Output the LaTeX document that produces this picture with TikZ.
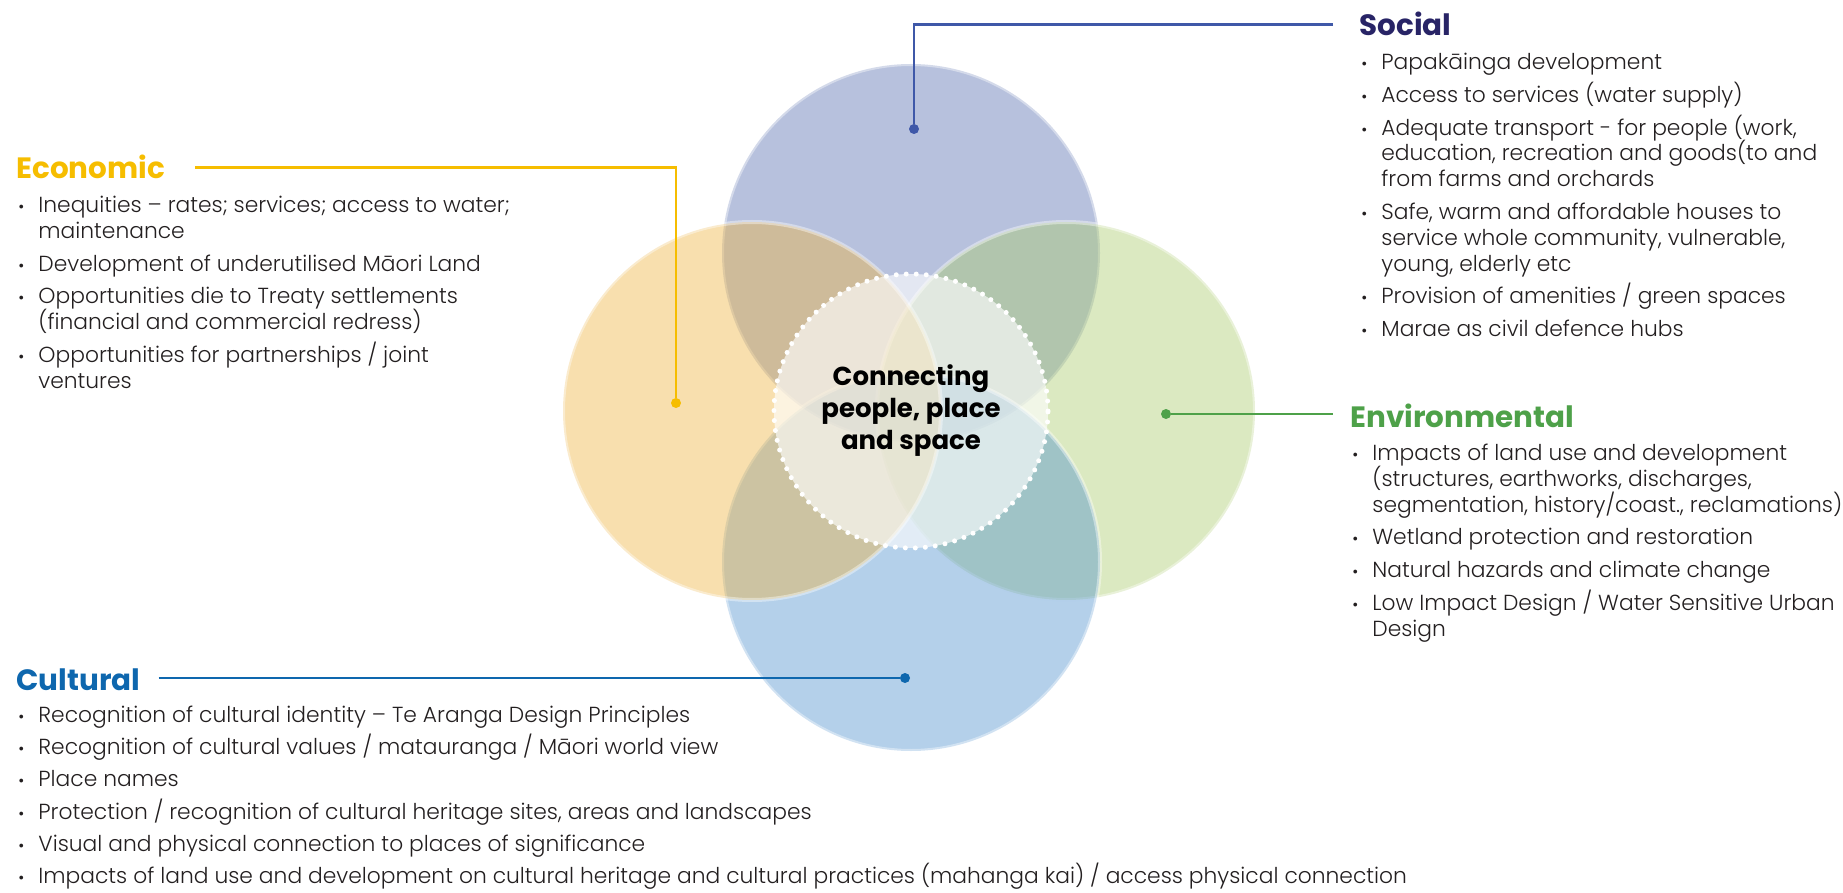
\documentclass[tikz,border=0pt]{standalone}
\usepackage{fontspec}
\setmainfont{Poppins}[UprightFont=* Light,BoldFont=* Bold]
\usetikzlibrary{positioning}
\definecolor{SocFill}{HTML}{546CAE}
\definecolor{EcoFill}{HTML}{EEB33E}
\definecolor{EnvFill}{HTML}{A9CB6B}
\definecolor{CulFill}{HTML}{4C8FCD}
\definecolor{SocHead}{HTML}{282466}
\definecolor{SocLine}{HTML}{3F58A8}
\definecolor{EcoHead}{HTML}{F6BD00}
\definecolor{EnvHead}{HTML}{4EA149}
\definecolor{CulHead}{HTML}{0E67AE}
\definecolor{BodyText}{HTML}{231F20}
\newcommand{\bul}{\makebox[10pt][l]{\scalebox{.75}{\textbullet}}}
% one bullet point, hanging indent, fixed line pitch, gap after it
\newcommand{\bitem}[2][3.5pt]{\lineskiplimit=-100pt\parskip=0pt
  \spaceskip=0pt\xspaceskip=0pt\rightskip=0pt plus 1fil
  \hangindent=10pt\hangafter=1\noindent\strut\bul#2\par\vskip#1}

\begin{document}
\begin{tikzpicture}[
  x=0.5pt,y=-0.5pt,
  ring/.style={circle,minimum size=189pt,inner sep=0pt,fill opacity=.42,
    draw=white,draw opacity=.4,line width=2pt},
  hub/.style={circle,minimum size=137pt,inner sep=0pt,fill=white,fill opacity=.62,
    draw=white,draw opacity=1,line width=2.5pt,line cap=round,dash pattern=on 0pt off 5pt,
    text opacity=1,align=center,font=\fontsize{13}{16}\selectfont\bfseries},
  head/.style={inner sep=0pt,anchor=base west,font=\fontsize{14.7}{17}\selectfont\bfseries},
  list/.style={inner sep=0pt,anchor=north west,text=BodyText,
    font=\fontsize{10.9}{12.9}\selectfont},
  dot/.style={circle,fill,inner sep=0pt,minimum size=5pt},
  link/.style={line width=1.2pt}
]
  \useasboundingbox (0,0) rectangle (1843,893);
  % four overlapping circles, back to front
  \foreach \nm/\col/\pos in {socC/SocFill/{911,253},envC/EnvFill/{1066,411},
      culC/CulFill/{911,562},ecoC/EcoFill/{752,411}}
    {\node[ring,fill=\col] (\nm) at (\pos) {};}
  \node[hub] (hub) at (911,411) {Connecting\\people, place\\and space};

  % headings
  \node[head,text=SocHead] (socT) at (1359,36) {Social};
  \node[head,text=EcoHead] (ecoT) at (16,179) {Economic};
  \node[head,text=EnvHead] (envT) at (1350,427) {Environmental};
  \node[head,text=CulHead] (culT) at (16,690) {Cultural};

  % dots
  \node[dot,SocLine] (socD) at (914,129) {};
  \node[dot,EcoHead] (ecoD) at (676,403) {};
  \node[dot,EnvHead] (envD) at (1166,414) {};
  \node[dot,CulHead] (culD) at (905,678) {};

  \draw[link,SocLine,shorten <=13pt] (socT.west) -| (socD);
  \draw[link,EcoHead,shorten <=15pt] (ecoT.east) -| (ecoD);
  \draw[link,EnvHead,shorten >=8.5pt] (envD) -- (envD -| envT.west);
  \draw[link,CulHead,shorten <=9pt] (culT.east |- culD) -- (culD);

  % bullet lists
  \node[list,text width=250pt,below right=7.5pt and 1pt of socT.base west] (socL) {%
    \bitem{Papakāinga development}
    \bitem{Access to services (water supply)}
    \bitem{Adequate transport - for people (work,\newline
      education, recreation and goods(to and\newline from farms and orchards}
    \bitem{Safe, warm and affordable houses to\newline
      service whole community, vulnerable,\newline young, elderly etc}
    \bitem{Provision of amenities / green spaces}
    \bitem{Marae as civil defence hubs}};
  \node[list,text width=270pt,below right=7.5pt and 1pt of ecoT.base west] (ecoL) {%
    \bitem{Inequities – rates; services; access to water;\newline maintenance}
    \bitem{Development of underutilised Māori Land}
    \bitem{Opportunities die to Treaty settlements\newline
      (financial and commercial redress)}
    \bitem{Opportunities for partnerships / joint\newline ventures}};
  \node[list,text width=300pt,below right=7.5pt and 1pt of envT.base west] (envL) {%
    \bitem{Impacts of land use and development\newline
      (structures, earthworks, discharges,\newline
      segmentation, history/coast., reclamations)}
    \bitem{Wetland protection and restoration}
    \bitem{Natural hazards and climate change}
    \bitem{Low Impact Design / Water Sensitive Urban\newline Design}};
  \node[list,text width=900pt,below right=7pt and 1pt of culT.base west] (culL) {%
    \bitem[3.2pt]{Recognition of cultural identity – Te Aranga Design Principles}
    \bitem[3.2pt]{Recognition of cultural values / matauranga / Māori world view}
    \bitem[3.2pt]{Place names}
    \bitem[3.2pt]{Protection / recognition of cultural heritage sites, areas and landscapes}
    \bitem[3.2pt]{Visual and physical connection to places of significance}
    \bitem[0pt]{Impacts of land use and development on cultural heritage and cultural practices (mahanga kai) / access physical connection}};
\end{tikzpicture}
\end{document}
